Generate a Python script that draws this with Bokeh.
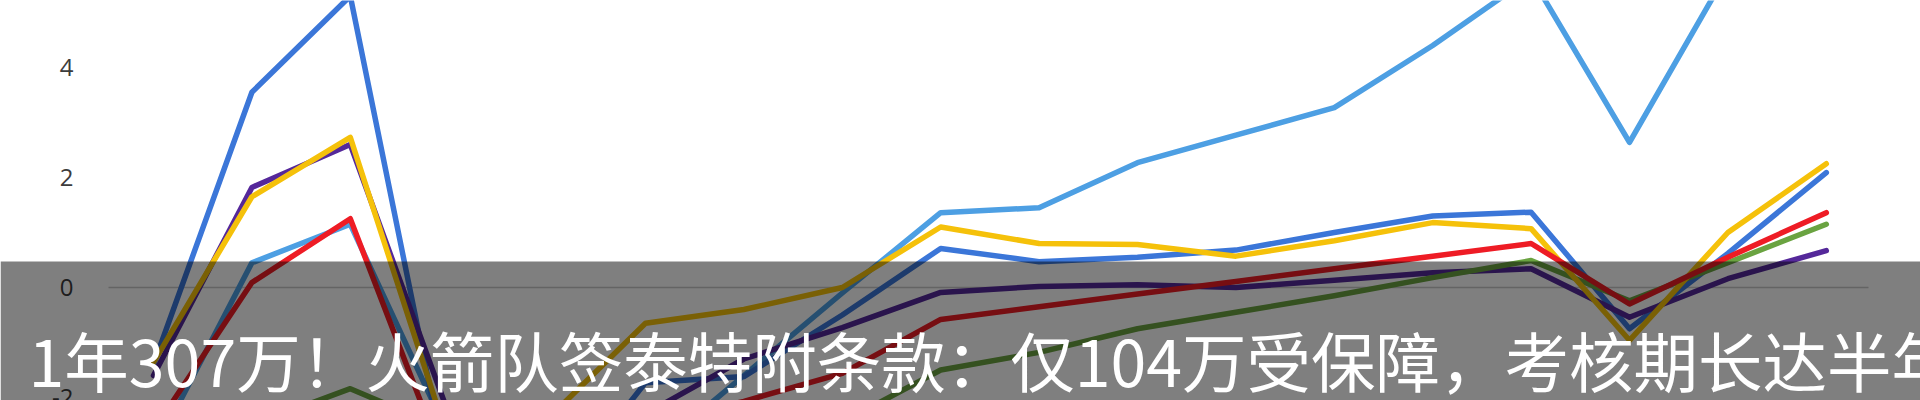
from bokeh.plotting import figure
from bokeh.models import Range1d, BoxAnnotation, Label
from bokeh.embed import file_html
from bokeh.resources import INLINE

# ---- data ----
x_idx = list(range(18))
light_blue = [-3.0, 0.45, 1.15, -2.7, -3.2, -3.1, -1.6, -0.1, 1.36, 1.45, 2.27, 2.77, 3.27, 4.4, 5.65, 2.64, 5.75, 6.3]
blue = [-1.4, 3.55, 5.3, -3.5, -4.0, -1.73, -1.62, -0.5, 0.71, 0.47, 0.55, 0.68, 1.0, 1.3, 1.37, -0.75, 0.62, 2.09]
purple = [-1.6, 1.82, 2.6, -2.3, -2.8, -2.3, -1.3, -0.73, -0.09, 0.02, 0.05, 0.0, 0.13, 0.27, 0.34, -0.54, 0.16, 0.67]
green = [-3.3, -2.5, -1.84, -2.6, -3.0, -3.2, -3.0, -2.45, -1.5, -1.18, -0.75, -0.45, -0.15, 0.18, 0.49, -0.24, 0.45, 1.15]
yellow = [-1.36, 1.65, 2.73, -2.8, -2.4, -0.65, -0.4, 0.0, 1.1, 0.8, 0.78, 0.57, 0.85, 1.18, 1.07, -0.96, 1.0, 2.25]
red = [-2.6, 0.09, 1.25, -3.4, -3.0, -2.5, -2.07, -1.56, -0.58, -0.35, -0.12, 0.11, 0.34, 0.57, 0.8, -0.3, 0.55, 1.36]

y_ticks = [-2, 0, 2, 4]
y_tick_labels = ["-2", "0", "2", "4"]
caption = "1年307万！火箭队签泰特附条款：仅104万受保障，考核期长达半年"

series = [
    (light_blue, "#4d9fe3"),
    (blue, "#3b76d8"),
    (purple, "#55289a"),
    (green, "#6aa341"),
    (yellow, "#f5c10a"),
    (red, "#ee1c25"),
]

# ---- geometry (pixels inside the 1920x400 canvas) ----
W, H = 1920, 400
PX_X0, PX_DX = 153.0, 98.4          # pixel of first category, pixels per category
PX_Y0, PX_DY = 287.0, 55.0          # pixel of value 0, pixels per unit

def dx(px):
    return (px - PX_X0) / PX_DX

def dy(py):
    return (PX_Y0 - py) / PX_DY

p = figure(width=W, height=H, output_backend="svg", toolbar_location=None,
           x_axis_location=None, y_axis_location=None,
           min_border_left=0, min_border_right=0, min_border_top=0, min_border_bottom=0,
           x_range=Range1d(dx(0), dx(W)), y_range=Range1d(dy(H), dy(0)))
p.outline_line_color = None
p.background_fill_color = "white"
p.border_fill_color = "white"
p.grid.visible = False

# zero base line
p.line([dx(108), dx(1868)], [0, 0], line_color="#c8c8c8", line_width=1.5)

# y tick labels
p.text(x=[dx(73)] * len(y_ticks), y=y_ticks, text=y_tick_labels,
       text_align="right", text_baseline="middle",
       text_font={"value": "Open Sans"}, text_font_size={"value": "24px"},
       text_color="#3c3c3c")

for vals, col in series:
    p.line(x_idx, vals, line_color=col, line_width=5.5, line_join="round", line_cap="round")

# overlay band
band = BoxAnnotation(top=dy(261), fill_color="black", fill_alpha=0.5,
                     line_color=None, level="overlay")
p.add_layout(band)

cap = Label(x=dx(28), y=dy(358), text=caption, text_color="white",
            text_font="Noto Sans CJK SC", text_font_size="64.5px",
            text_baseline="alphabetic", text_align="left", level="overlay")
p.add_layout(cap)

open("out.html", "w").write(file_html(p, INLINE))
